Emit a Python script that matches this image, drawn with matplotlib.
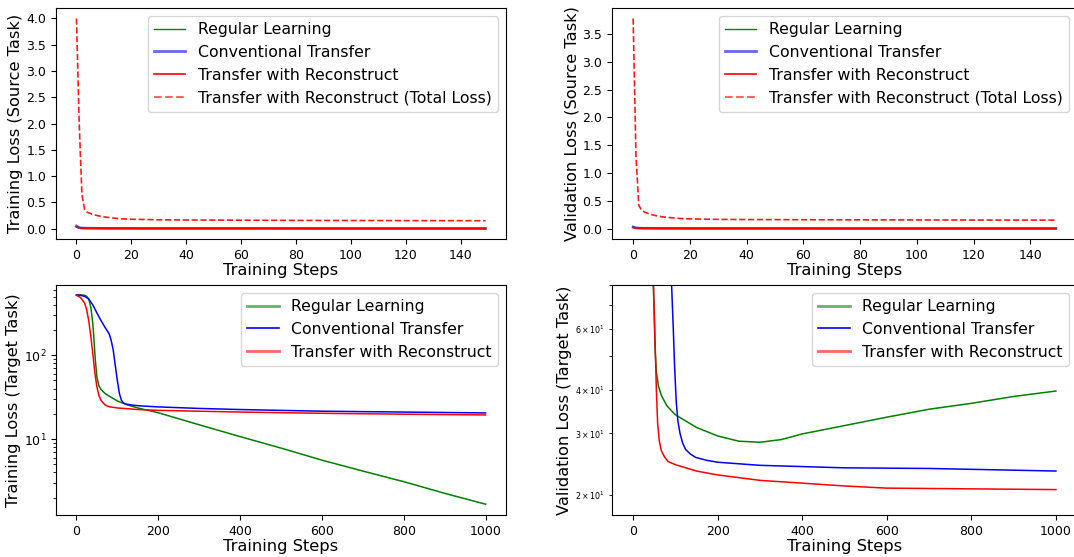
import matplotlib
matplotlib.use("Agg")
import matplotlib.pyplot as plt
from matplotlib.lines import Line2D
from matplotlib.ticker import MultipleLocator

# ---------------- data ----------------
labels_src = ["Regular Learning", "Conventional Transfer",
              "Transfer with Reconstruct", "Transfer with Reconstruct (Total Loss)"]
labels_tgt = ["Regular Learning", "Conventional Transfer", "Transfer with Reconstruct"]

# Source task, training loss (steps 0..149)
src_steps = [0, 1, 2, 3, 4, 5, 6, 8, 10, 13, 16, 20, 25, 30, 40, 60, 80, 100, 120, 149]
src_train_regular = [0.04, 0.02, 0.012, 0.01, 0.009, 0.008, 0.008, 0.007, 0.007, 0.006,
                     0.006, 0.006, 0.005, 0.005, 0.005, 0.005, 0.005, 0.004, 0.004, 0.004]
src_train_conv = [0.05, 0.02, 0.012, 0.01, 0.009, 0.008, 0.008, 0.007, 0.007, 0.006,
                  0.006, 0.006, 0.005, 0.005, 0.005, 0.005, 0.005, 0.004, 0.004, 0.004]
src_train_recon = [0.03, 0.015, 0.01, 0.009, 0.008, 0.008, 0.007, 0.007, 0.006, 0.006,
                   0.006, 0.005, 0.005, 0.005, 0.005, 0.005, 0.004, 0.004, 0.004, 0.004]
src_train_total = [4.0, 2.0, 0.65, 0.36, 0.31, 0.29, 0.27, 0.245, 0.225, 0.205,
                   0.19, 0.18, 0.175, 0.17, 0.166, 0.162, 0.158, 0.156, 0.154, 0.152]

# Source task, validation loss
src_val_regular = [0.03, 0.015, 0.01, 0.009, 0.008, 0.008, 0.007, 0.007, 0.006, 0.006,
                   0.006, 0.005, 0.005, 0.005, 0.005, 0.005, 0.004, 0.004, 0.004, 0.004]
src_val_conv = [0.03, 0.015, 0.01, 0.009, 0.008, 0.008, 0.007, 0.007, 0.006, 0.006,
                0.006, 0.005, 0.005, 0.005, 0.005, 0.005, 0.004, 0.004, 0.004, 0.004]
src_val_recon = [0.02, 0.012, 0.009, 0.008, 0.008, 0.007, 0.007, 0.006, 0.006, 0.006,
                 0.005, 0.005, 0.005, 0.005, 0.005, 0.004, 0.004, 0.004, 0.004, 0.004]
src_val_total = [3.78, 1.3, 0.42, 0.33, 0.3, 0.28, 0.26, 0.235, 0.215, 0.2,
                 0.185, 0.177, 0.172, 0.168, 0.165, 0.162, 0.16, 0.158, 0.156, 0.155]

# Target task, training loss (steps 0..1000)
tgt_train_steps_reg = [0, 10, 20, 25, 30, 35, 40, 43, 46, 50, 55, 60, 70, 80, 100, 125, 150,
                       175, 200, 300, 400, 500, 600, 700, 800, 900, 1000]
tgt_train_regular = [525, 525, 520, 505, 470, 380, 240, 150, 90, 55, 43, 39, 35, 32.5, 28.5,
                     25.5, 23.5, 22.0, 20.6, 14.8, 10.7, 7.8, 5.6, 4.15, 3.1, 2.25, 1.67]
tgt_train_steps_conv = [0, 10, 20, 30, 40, 50, 60, 70, 80, 85, 90, 95, 100, 105, 110, 115,
                        120, 140, 160, 200, 300, 400, 600, 800, 1000]
tgt_train_conv = [525, 520, 505, 470, 400, 320, 260, 215, 180, 150, 115, 75, 50, 35, 29, 27,
                  26.2, 25.3, 24.8, 24.2, 23.2, 22.5, 21.5, 21.0, 20.5]
tgt_train_steps_recon = [0, 10, 20, 25, 30, 35, 40, 45, 50, 55, 60, 70, 80, 100, 150, 200,
                         400, 600, 800, 1000]
tgt_train_recon = [520, 490, 420, 350, 260, 170, 105, 62, 42, 33, 29, 25.5, 24.3, 23.5, 22.5,
                   22.0, 21.0, 20.3, 19.8, 19.4]

# Target task, validation loss
tgt_val_steps_reg = [0, 20, 40, 45, 48, 50, 52, 55, 60, 67, 80, 99, 150, 200, 250, 300, 350,
                     400, 500, 600, 700, 800, 900, 1000]
tgt_val_regular = [500, 400, 150, 95, 80, 65, 52, 45, 41, 38.5, 36, 34, 31.2, 29.5, 28.5,
                   28.3, 28.8, 29.9, 31.6, 33.4, 35.2, 36.6, 38.3, 39.7]
tgt_val_steps_conv = [0, 40, 80, 91, 95, 98, 102, 106, 111, 117, 124, 135, 148, 175, 200,
                      300, 500, 700, 1000]
tgt_val_conv = [500, 400, 150, 80, 60, 47, 37, 32.5, 30, 28.2, 27, 26.2, 25.6, 25.1, 24.8,
                24.3, 23.9, 23.8, 23.4]
tgt_val_steps_recon = [0, 20, 40, 48, 52, 55, 58, 62, 67, 75, 83, 100, 150, 200, 300, 400,
                       500, 600, 800, 1000]
tgt_val_recon = [500, 400, 150, 80, 55, 40, 32, 28.5, 26.7, 25.6, 24.9, 24.4, 23.4, 22.8,
                 22.0, 21.6, 21.2, 20.9, 20.8, 20.7]

# ---------------- figure ----------------
W, H = 1074, 557
fig = plt.figure(figsize=(W / 100, H / 100), dpi=100)

def ax_at(l, r, t, b):
    return fig.add_axes([l / W, (H - b) / H, (r - l) / W, (b - t) / H])

ax1 = ax_at(56, 506, 8, 239)
ax2 = ax_at(612, 1077, 8, 239)
ax3 = ax_at(56, 506, 285, 515)
ax4 = ax_at(612, 1077, 285, 515)

TICK = 9
LAB = 11.7
LEG = 11.3
LW = 1.1

def src_panel(ax, reg, conv, recon, total, ylabel):
    ax.plot(src_steps, reg, color="green", lw=LW)
    ax.plot(src_steps, conv, color="blue", lw=2, alpha=0.6)
    ax.plot(src_steps, recon, color="red", lw=LW)
    ax.plot(src_steps, total, color="red", lw=1.2, ls="--", alpha=0.9)
    ax.set_xticks(range(0, 141, 20))
    ax.yaxis.set_major_locator(MultipleLocator(0.5))
    ax.set_xlabel("Training Steps", fontsize=LAB, labelpad=1)
    ax.set_ylabel(ylabel, fontsize=LAB, labelpad=2)
    ax.tick_params(labelsize=TICK)
    handles = [Line2D([], [], color="green", lw=1),
               Line2D([], [], color="blue", lw=2, alpha=0.6),
               Line2D([], [], color="red", lw=1.2),
               Line2D([], [], color="red", lw=1.5, ls="--", alpha=0.6)]
    ax.legend(handles, labels_src, loc="upper right", fontsize=LEG)

src_panel(ax1, src_train_regular, src_train_conv, src_train_recon, src_train_total,
          "Training Loss (Source Task)")
src_panel(ax2, src_val_regular, src_val_conv, src_val_recon, src_val_total,
          "Validation Loss (Source Task)")

def tgt_panel(ax, sr, r, sc, c, sx, x, ylabel):
    ax.plot(sr, r, color="green", lw=LW)
    ax.plot(sc, c, color="blue", lw=LW)
    ax.plot(sx, x, color="red", lw=LW)
    ax.set_yscale("log")
    ax.set_xlim(-49.95, 1049.95)
    ax.set_xticks(range(0, 1001, 200))
    ax.set_xlabel("Training Steps", fontsize=LAB, labelpad=1)
    ax.set_ylabel(ylabel, fontsize=LAB, labelpad=2)
    ax.tick_params(labelsize=TICK)
    handles = [Line2D([], [], color="green", lw=2, alpha=0.6),
               Line2D([], [], color="blue", lw=1.2),
               Line2D([], [], color="red", lw=2, alpha=0.6)]
    ax.legend(handles, labels_tgt, loc="upper right", fontsize=LEG)

tgt_panel(ax3, tgt_train_steps_reg, tgt_train_regular, tgt_train_steps_conv, tgt_train_conv,
          tgt_train_steps_recon, tgt_train_recon, "Training Loss (Target Task)")
ax3.set_ylim(1.24, 690)

tgt_panel(ax4, tgt_val_steps_reg, tgt_val_regular, tgt_val_steps_conv, tgt_val_conv,
          tgt_val_steps_recon, tgt_val_recon, "Validation Loss (Target Task)")
ax4.set_ylim(17.5, 80)
ax4.tick_params(axis="y", which="minor", labelsize=5.7)

fig.savefig("out.png", dpi=100)
